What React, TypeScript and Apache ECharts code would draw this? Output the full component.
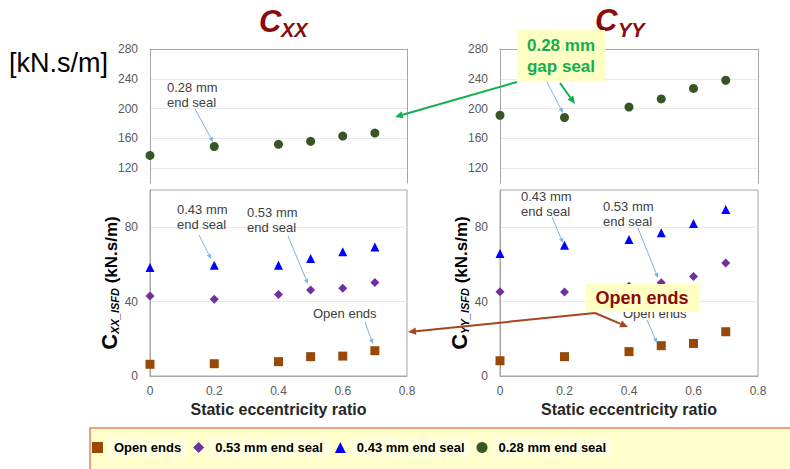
import React, { useEffect, useRef } from 'react';
import * as echarts from 'echarts';

// ---- data ----
const eccentricity = [0, 0.2, 0.4, 0.5, 0.6, 0.7];
const seriesNames = ['Open ends', '0.53 mm end seal', '0.43 mm end seal', '0.28 mm end seal'];
// Cxx
const cxxGapSeal028 = [137, 149, 152, 156, 163, 167];
const cxxOpenEnds = [6.3, 6.6, 7.7, 10.4, 10.7, 13.6];
const cxxEndSeal053 = [43, 41.3, 43.8, 46.2, 47.2, 50.3];
const cxxEndSeal043 = [58.3, 59.6, 59.6, 63.2, 66.8, 69.4];
// Cyy
const cyyGapSeal028 = [191, 188, 202, 213, 227, 238];
const cyyOpenEnds = [8.2, 10.4, 13.1, 16.3, 17.5, 23.8];
const cyyEndSeal053 = [45.3, 45.1, 48.3, 50.1, 53.5, 60.7];
const cyyEndSeal043 = [65.9, 70.3, 73.4, 77, 82, 89.5];
// axes
const topYTicks = [120, 160, 200, 240, 280];
const bottomYTicks = [0, 40, 80];

const FONT = "'Liberation Sans', Arial, sans-serif";
const GRAY = '#a6a6a6';
const LABEL = '#595959';
const GRIDLINE = '#e9e9e9';
const C_OPEN = '#984807';
const C_053 = '#7030a0';
const C_043 = '#0000ff';
const C_028 = '#375623';
const DARKRED = '#8b0a0a';
const GREEN = '#10b050';
const BROWN = '#a8441c';
const THINBLUE = '#7fb2e5';

const pairs = (ys: number[]) => eccentricity.map((x, i) => [x, ys[i]]);

function arrow(x1: number, y1: number, x2: number, y2: number, color: string, width: number, head: number) {
  const dx = x2 - x1, dy = y2 - y1;
  const len = Math.sqrt(dx * dx + dy * dy);
  const ux = dx / len, uy = dy / len;
  const bx = x2 - ux * head, by = y2 - uy * head;
  const px = -uy * head * 0.45, py = ux * head * 0.45;
  return [
    { type: 'line', shape: { x1, y1, x2: bx, y2: by }, style: { stroke: color, lineWidth: width }, z: 50 },
    { type: 'polygon', shape: { points: [[x2, y2], [bx + px, by + py], [bx - px, by - py]] }, style: { fill: color }, z: 50 },
  ];
}

function annot(x: number, y: number, text: string) {
  return { type: 'text', x, y, style: { text, font: `13px ${FONT}`, fill: '#404040', lineHeight: 15 }, z: 40 };
}

export default function App() {
  const ref = useRef<HTMLDivElement>(null);
  useEffect(() => {
    if (!ref.current) return;
    const chart = echarts.init(ref.current, null, { renderer: 'svg' });

    const grids = [
      { left: 150, top: 49, width: 257, height: 134, show: false },
      { left: 500, top: 49, width: 258, height: 134, show: false },
      { left: 150, top: 190, width: 257, height: 186, show: true, borderColor: GRAY, borderWidth: 1 },
      { left: 500, top: 190, width: 258, height: 186, show: true, borderColor: GRAY, borderWidth: 1 },
    ];

    const xAxisTop = (gi: number) => ({
      type: 'value', gridIndex: gi, min: 0, max: 0.8, interval: 0.2, position: 'top',
      axisLine: { show: true, onZero: false, lineStyle: { color: GRAY } },
      axisTick: { show: false }, axisLabel: { show: false }, splitLine: { show: false },
    });
    const xAxisBottom = (gi: number) => ({
      type: 'value', gridIndex: gi, min: 0, max: 0.8, interval: 0.2,
      axisLine: { show: true, onZero: false, lineStyle: { color: GRAY } },
      axisTick: { show: false },
      axisLabel: { color: LABEL, fontSize: 12, fontFamily: FONT, margin: 9 },
      splitLine: { show: false },
      name: 'Static eccentricity ratio', nameLocation: 'middle', nameGap: 25,
      nameTextStyle: { fontSize: 16, fontWeight: 'bold', color: '#262626', fontFamily: FONT },
    });
    const yAxisTop = (gi: number) => ({
      type: 'value', gridIndex: gi, min: 100, max: 280, interval: 20,
      axisLine: { show: true, lineStyle: { color: GRAY } },
      axisTick: { show: false },
      axisLabel: {
        color: LABEL, fontSize: 12, fontFamily: FONT, margin: 12,
        formatter: (v: number) => (topYTicks.indexOf(v) >= 0 ? String(v) : ''),
      },
      splitLine: { show: true, lineStyle: { color: ['rgba(0,0,0,0)', GRIDLINE] } },
    });
    const yAxisTopRight = (gi: number) => ({
      type: 'value', gridIndex: gi, min: 100, max: 280, interval: 20, position: 'right',
      axisLine: { show: true, lineStyle: { color: GRAY } },
      axisTick: { show: false }, axisLabel: { show: false }, splitLine: { show: false },
    });
    const yAxisBottom = (gi: number, sub: string) => ({
      type: 'value', gridIndex: gi, min: 0, max: 100, interval: 20,
      axisLine: { show: true, lineStyle: { color: GRAY } },
      axisTick: { show: false },
      axisLabel: {
        color: LABEL, fontSize: 12, fontFamily: FONT, margin: 12,
        formatter: (v: number) => (bottomYTicks.indexOf(v) >= 0 ? String(v) : ''),
      },
      splitLine: { show: true, lineStyle: { color: [GRIDLINE, 'rgba(0,0,0,0)'] } },
      name: `{c|C}{s|${sub}}{u| (kN.s/m)}`,
      nameLocation: 'middle', nameRotate: 90, nameGap: 30,
      nameTextStyle: {
        color: '#000',
        rich: {
          c: { fontSize: 22, fontWeight: 'bold', fontFamily: FONT, color: '#000', lineHeight: 22, verticalAlign: 'bottom' },
          s: { fontSize: 11, fontWeight: 'bold', fontStyle: 'italic', fontFamily: FONT, color: '#000', lineHeight: 6, verticalAlign: 'bottom' },
          u: { fontSize: 17, fontWeight: 'bold', fontFamily: FONT, color: '#000', lineHeight: 20, verticalAlign: 'bottom' },
        },
      },
    });

    const sc = (name: string, gi: number, yi: number, data: number[], symbol: string, size: number, color: string) => ({
      type: 'scatter', name, xAxisIndex: gi, yAxisIndex: yi, data: pairs(data),
      symbol, symbolSize: size, itemStyle: { color, opacity: 1 }, z: 10,
    });

    const series = [
      sc(seriesNames[3], 0, 0, cxxGapSeal028, 'circle', 9, C_028),
      sc(seriesNames[3], 1, 1, cyyGapSeal028, 'circle', 9, C_028),
      sc(seriesNames[0], 2, 2, cxxOpenEnds, 'rect', 9, C_OPEN),
      sc(seriesNames[1], 2, 2, cxxEndSeal053, 'diamond', 9, C_053),
      sc(seriesNames[2], 2, 2, cxxEndSeal043, 'triangle', 9, C_043),
      sc(seriesNames[0], 3, 3, cyyOpenEnds, 'rect', 9, C_OPEN),
      sc(seriesNames[1], 3, 3, cyyEndSeal053, 'diamond', 9, C_053),
      sc(seriesNames[2], 3, 3, cyyEndSeal043, 'triangle', 9, C_043),
    ];

    const graphic: any[] = [
      // legend frame
      { type: 'rect', shape: { x: 90, y: 428, width: 740, height: 70 }, style: { fill: '#ffffcc', stroke: '#e8806a', lineWidth: 1.5 }, z: -1 },
      // titles
      { type: 'text', x: 259, y: 6, style: { text: 'C', font: `italic bold 31px ${FONT}`, fill: DARKRED } },
      { type: 'text', x: 281, y: 20, style: { text: 'XX', font: `italic bold 20px ${FONT}`, fill: DARKRED } },
      { type: 'text', x: 595, y: 5, style: { text: 'C', font: `italic bold 31px ${FONT}`, fill: DARKRED } },
      { type: 'text', x: 618, y: 20, style: { text: 'YY', font: `italic bold 20px ${FONT}`, fill: DARKRED } },
      { type: 'text', x: 9, y: 49, style: { text: '[kN.s/m]', font: `27px ${FONT}`, fill: '#000' } },
      // annotations top-left
      annot(167, 80, '0.28 mm\nend seal'),
      ...arrow(195, 109, 213, 142, THINBLUE, 1, 5),
      // bottom-left
      annot(177, 202, '0.43 mm\nend seal'),
      ...arrow(199, 235, 211, 259, THINBLUE, 1, 5),
      annot(247, 205, '0.53 mm\nend seal'),
      ...arrow(288, 236, 308, 284, THINBLUE, 1, 5),
      annot(313, 306, 'Open ends'),
      ...arrow(365, 322, 373, 344, THINBLUE, 1, 5),
      // bottom-right
      annot(521, 189, '0.43 mm\nend seal'),
      ...arrow(552, 217, 563, 243, THINBLUE, 1, 5),
      annot(603, 199, '0.53 mm\nend seal'),
      ...arrow(638, 228, 658, 278, THINBLUE, 1, 5),
      annot(623, 306, 'Open ends'),
      ...arrow(647, 320, 657, 343, THINBLUE, 1, 5),
      // top-right thin arrow from hidden annotation
      ...arrow(547, 82, 563, 113, THINBLUE, 1, 5),
      // green callout
      { type: 'rect', shape: { x: 517, y: 30, width: 88, height: 51 }, style: { fill: '#ffffc4' }, z: 60 },
      { type: 'text', x: 561, y: 35, style: { text: '0.28 mm\ngap seal', font: `bold 17px ${FONT}`, fill: GREEN, align: 'center', lineHeight: 21 }, z: 61 },
      ...arrow(517, 82, 395, 117, GREEN, 2, 8).map((e) => ({ ...e, z: 62 })),
      ...arrow(560, 83, 575, 104, GREEN, 2, 8).map((e) => ({ ...e, z: 62 })),
      // open ends callout
      { type: 'rect', shape: { x: 586, y: 284, width: 113, height: 28 }, style: { fill: '#ffffc4' }, z: 60 },
      { type: 'text', x: 642, y: 298, style: { text: 'Open ends', font: `bold 18px ${FONT}`, fill: DARKRED, align: 'center', verticalAlign: 'middle' }, z: 61 },
      ...arrow(595, 313, 408, 332, BROWN, 2, 8).map((e) => ({ ...e, z: 62 })),
      ...arrow(595, 313, 628, 327, BROWN, 2, 8).map((e) => ({ ...e, z: 62 })),
    ];

    chart.setOption({
      animation: false,
      backgroundColor: '#fff',
      grid: grids,
      xAxis: [xAxisTop(0), xAxisTop(1), xAxisBottom(2), xAxisBottom(3)],
      yAxis: [
        yAxisTop(0), yAxisTop(1),
        yAxisBottom(2, 'XX_ISFD'), yAxisBottom(3, 'YY_ISFD'),
        yAxisTopRight(0), yAxisTopRight(1),
      ],
      legend: {
        data: seriesNames,
        left: 92, top: 438,
        orient: 'horizontal',
        padding: 0,
        itemWidth: 11, itemHeight: 11, itemGap: 6,
        textStyle: {
          fontSize: 13, fontWeight: 'bold', color: '#000', fontFamily: FONT,
          backgroundColor: '#ffffe0', padding: [3, 6],
        },
      },
      series,
      graphic,
    });
    return () => chart.dispose();
  }, []);
  return <div ref={ref} style={{ position: 'absolute', left: 0, top: 0, width: 790, height: 469 }} />;
}
